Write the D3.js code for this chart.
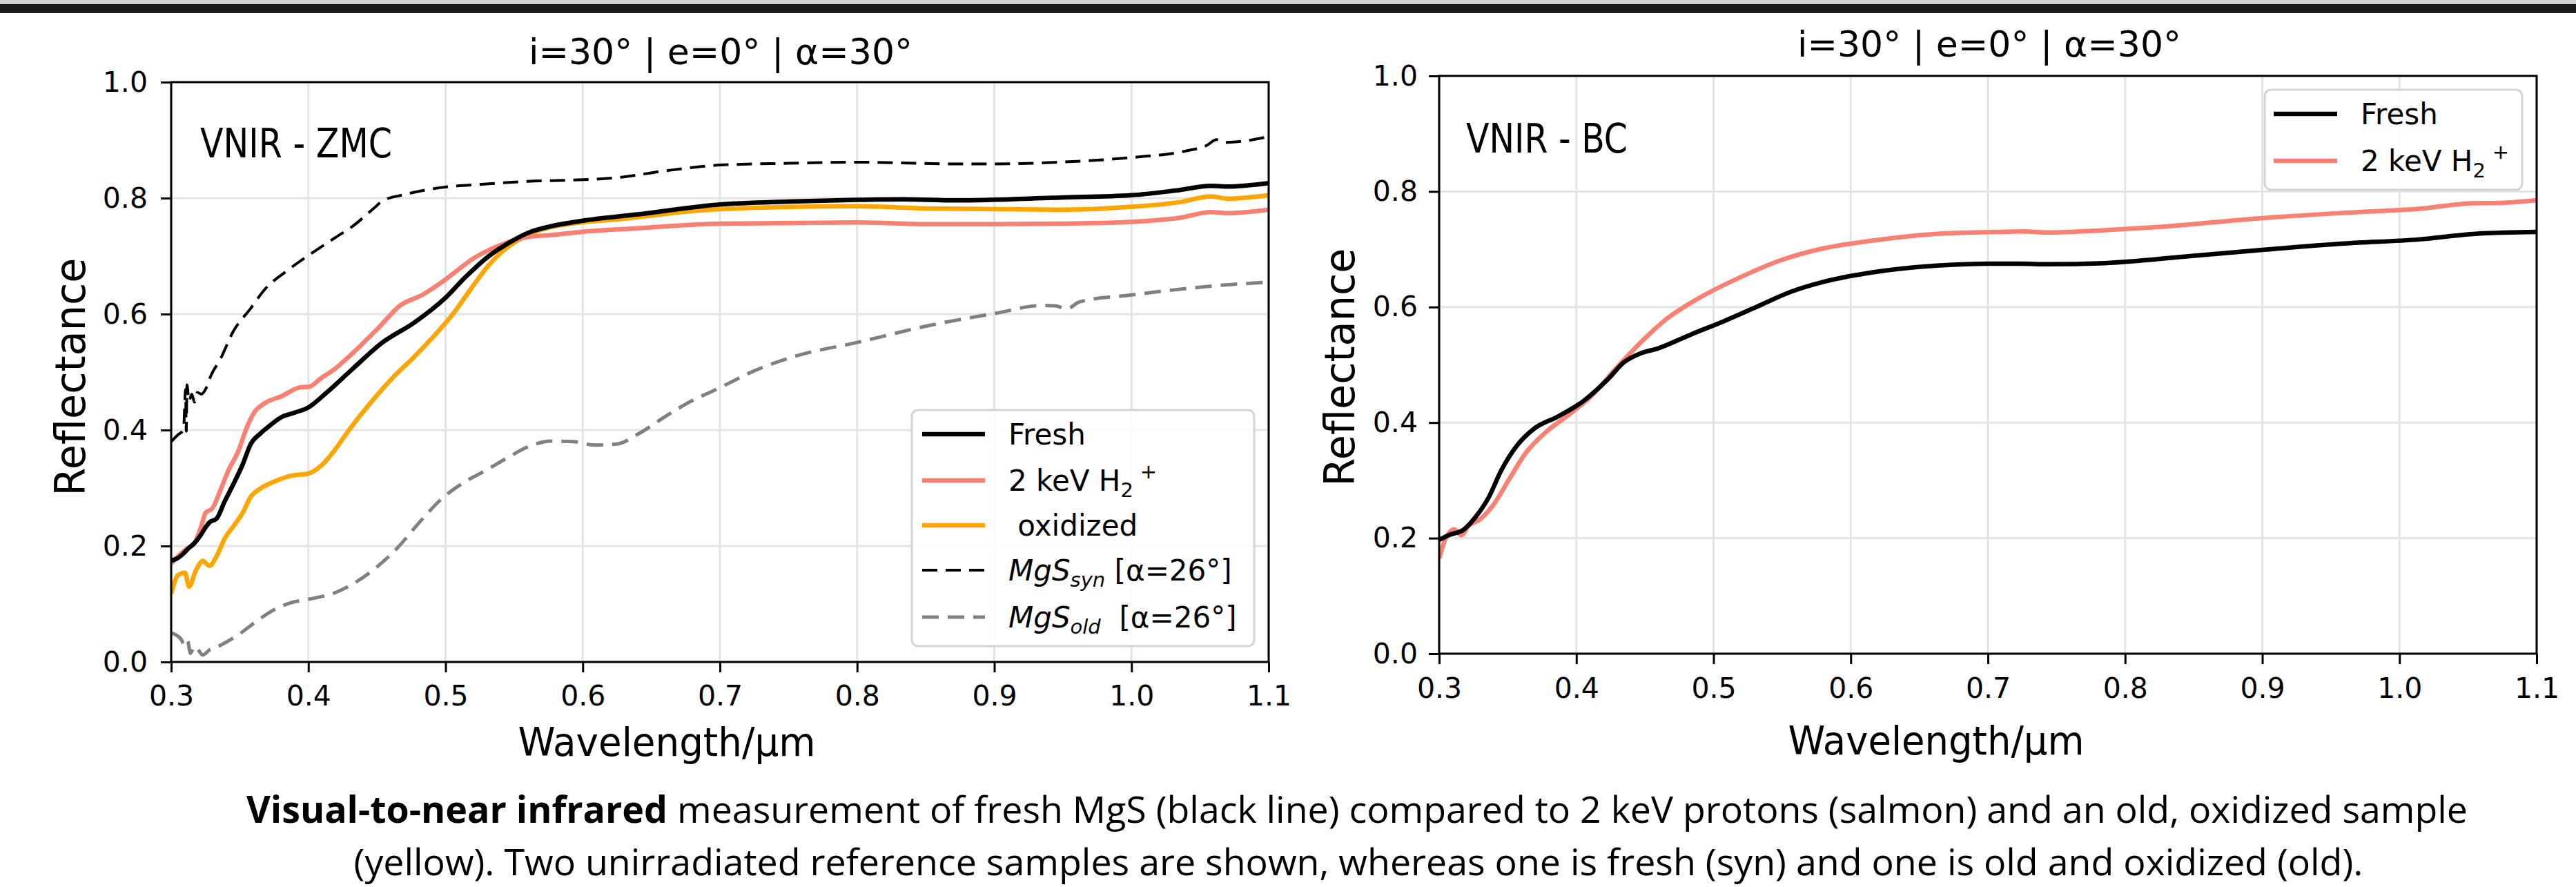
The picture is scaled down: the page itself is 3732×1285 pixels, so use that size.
<!DOCTYPE html>
<html>
<head>
<meta charset="utf-8">
<script src="https://cdn.jsdelivr.net/npm/d3@7"></script>
<style>
  html, body { margin: 0; padding: 0; background: #fff; }
  svg { display: block; }
  text { font-family: "DejaVu Sans", sans-serif; fill: #000; white-space: pre; }
</style>
</head>
<body>
<svg id="fig"></svg>
<script>
// ---- data (wavelength in um, reflectance) ----
var xTicks = [0.3, 0.4, 0.5, 0.6, 0.7, 0.8, 0.9, 1.0, 1.1];
var yTicks = [0.0, 0.2, 0.4, 0.6, 0.8, 1.0];

// ZMC panel
var zmcFresh = [[0.300,0.175],[0.304,0.178],[0.308,0.185],[0.313,0.197],[0.317,0.205],[0.321,0.217],[0.325,0.232],[0.328,0.241],[0.333,0.247],[0.339,0.277],[0.345,0.305],[0.352,0.340],[0.358,0.376],[0.365,0.394],[0.371,0.406],[0.381,0.423],[0.390,0.430],[0.400,0.439],[0.413,0.464],[0.432,0.505],[0.454,0.551],[0.477,0.585],[0.499,0.626],[0.515,0.665],[0.531,0.699],[0.547,0.724],[0.560,0.740],[0.576,0.751],[0.600,0.761],[0.640,0.772],[0.700,0.789],[0.750,0.794],[0.800,0.797],[0.833,0.798],[0.872,0.796],[0.948,0.801],[1.000,0.805],[1.032,0.813],[1.058,0.821],[1.070,0.820],[1.100,0.826]];
var zmcProton = [[0.300,0.170],[0.304,0.180],[0.310,0.193],[0.317,0.205],[0.322,0.235],[0.325,0.257],[0.330,0.265],[0.336,0.297],[0.342,0.332],[0.349,0.364],[0.355,0.404],[0.361,0.432],[0.368,0.446],[0.381,0.459],[0.393,0.473],[0.401,0.475],[0.409,0.489],[0.419,0.505],[0.432,0.532],[0.451,0.576],[0.467,0.615],[0.483,0.633],[0.499,0.658],[0.521,0.697],[0.541,0.720],[0.560,0.733],[0.576,0.736],[0.600,0.742],[0.640,0.748],[0.700,0.756],[0.800,0.758],[0.852,0.755],[0.900,0.755],[0.948,0.756],[1.000,0.759],[1.035,0.766],[1.058,0.776],[1.070,0.774],[1.100,0.780]];
var zmcOxidized = [[0.300,0.118],[0.305,0.150],[0.310,0.154],[0.313,0.130],[0.318,0.158],[0.323,0.174],[0.328,0.166],[0.333,0.182],[0.339,0.213],[0.345,0.233],[0.352,0.257],[0.358,0.285],[0.365,0.299],[0.375,0.311],[0.387,0.321],[0.400,0.325],[0.410,0.340],[0.420,0.368],[0.429,0.398],[0.445,0.446],[0.461,0.489],[0.477,0.526],[0.496,0.574],[0.505,0.599],[0.518,0.642],[0.531,0.683],[0.544,0.713],[0.557,0.733],[0.569,0.745],[0.592,0.756],[0.628,0.764],[0.700,0.781],[0.800,0.786],[0.852,0.782],[0.948,0.780],[1.000,0.785],[1.035,0.793],[1.058,0.803],[1.070,0.799],[1.100,0.805]];
var mgsSyn = [[0.300,0.380],[0.305,0.392],[0.309,0.400],[0.3105,0.470],[0.311,0.398],[0.3115,0.478],[0.313,0.450],[0.315,0.462],[0.317,0.448],[0.319,0.465],[0.322,0.462],[0.325,0.470],[0.329,0.494],[0.336,0.523],[0.345,0.569],[0.358,0.610],[0.368,0.642],[0.384,0.674],[0.400,0.701],[0.419,0.731],[0.432,0.751],[0.448,0.783],[0.454,0.795],[0.470,0.806],[0.496,0.818],[0.528,0.824],[0.560,0.829],[0.592,0.831],[0.628,0.836],[0.660,0.847],[0.700,0.857],[0.750,0.860],[0.800,0.862],[0.827,0.861],[0.872,0.859],[0.900,0.859],[0.948,0.862],[1.000,0.870],[1.039,0.881],[1.055,0.891],[1.062,0.901],[1.068,0.896],[1.100,0.906]];
var mgsOld = [[0.300,0.050],[0.307,0.040],[0.310,0.028],[0.312,0.036],[0.314,0.015],[0.317,0.027],[0.320,0.020],[0.323,0.012],[0.328,0.021],[0.336,0.029],[0.349,0.047],[0.362,0.070],[0.375,0.090],[0.387,0.102],[0.400,0.108],[0.420,0.120],[0.432,0.134],[0.449,0.162],[0.465,0.197],[0.481,0.241],[0.497,0.281],[0.513,0.309],[0.529,0.330],[0.545,0.352],[0.561,0.372],[0.577,0.381],[0.593,0.380],[0.609,0.374],[0.625,0.376],[0.641,0.394],[0.660,0.423],[0.676,0.446],[0.700,0.473],[0.724,0.501],[0.756,0.528],[0.800,0.551],[0.852,0.580],[0.900,0.601],[0.936,0.615],[0.945,0.614],[0.953,0.609],[0.962,0.621],[1.000,0.633],[1.062,0.649],[1.100,0.655]];

// BC panel
var bcFresh = [[0.300,0.197],[0.308,0.206],[0.318,0.215],[0.327,0.238],[0.336,0.270],[0.345,0.316],[0.357,0.361],[0.369,0.389],[0.387,0.411],[0.405,0.437],[0.423,0.475],[0.435,0.505],[0.447,0.520],[0.459,0.528],[0.484,0.553],[0.508,0.576],[0.532,0.601],[0.556,0.626],[0.581,0.644],[0.616,0.660],[0.665,0.672],[0.700,0.675],[0.725,0.675],[0.743,0.674],[0.785,0.676],[0.810,0.680],[0.846,0.688],[0.900,0.699],[0.960,0.710],[1.014,0.717],[1.057,0.727],[1.100,0.730]];
var bcProton = [[0.300,0.165],[0.305,0.201],[0.311,0.215],[0.316,0.205],[0.321,0.220],[0.330,0.233],[0.339,0.256],[0.351,0.302],[0.363,0.347],[0.378,0.384],[0.393,0.411],[0.411,0.446],[0.429,0.494],[0.447,0.539],[0.465,0.578],[0.489,0.615],[0.519,0.651],[0.549,0.681],[0.579,0.701],[0.616,0.715],[0.665,0.727],[0.707,0.730],[0.725,0.731],[0.743,0.729],[0.785,0.733],[0.821,0.738],[0.900,0.754],[0.960,0.763],[1.014,0.770],[1.057,0.780],[1.069,0.780],[1.100,0.785]];

var titleText = 'i=30° | e=0° | α=30°';
var captionBold = 'Visual-to-near infrared';
var captionLine1 = ' measurement of fresh MgS (black line) compared to 2 keV protons (salmon) and an old, oxidized sample';
var captionLine2 = '(yellow). Two unirradiated reference samples are shown, whereas one is fresh (syn) and one is old and oxidized (old).';

// ---- figure ----
var width = 3732;
var height = 1285;

var svg = d3.select('#fig')
    .attr('width', width)
    .attr('height', height);

// screenshot frame at the top
svg.append('rect').attr('x', 0).attr('y', 0).attr('width', width).attr('height', 6).attr('fill', '#d2d2d2');
svg.append('rect').attr('x', 0).attr('y', 6).attr('width', width).attr('height', 13).attr('fill', '#1b1b1b');

var fmt = d3.format('.1f');

function drawPanel(cfg) {
    var x = d3.scaleLinear().domain([0.3, 1.1]).range([cfg.x0, cfg.x1]);
    var y = d3.scaleLinear().domain([0, 1]).range([cfg.y1, cfg.y0]);
    var g = svg.append('g').attr('class', 'panel-' + cfg.id);

    // grid
    g.append('g').selectAll('line')
        .data(xTicks)
        .enter().append('line')
        .attr('x1', function(d) { return x(d); })
        .attr('x2', function(d) { return x(d); })
        .attr('y1', cfg.y0).attr('y2', cfg.y1)
        .attr('stroke', '#e4e4e4').attr('stroke-width', 3);
    g.append('g').selectAll('line')
        .data(yTicks)
        .enter().append('line')
        .attr('x1', cfg.x0).attr('x2', cfg.x1)
        .attr('y1', function(d) { return y(d); })
        .attr('y2', function(d) { return y(d); })
        .attr('stroke', '#e4e4e4').attr('stroke-width', 3);

    // lines
    var clipId = 'clip-' + cfg.id;
    svg.append('clipPath').attr('id', clipId).append('rect')
        .attr('x', cfg.x0).attr('y', cfg.y0)
        .attr('width', cfg.x1 - cfg.x0).attr('height', cfg.y1 - cfg.y0);

    var line = d3.line()
        .x(function(d) { return x(d[0]); })
        .y(function(d) { return y(d[1]); })
        .curve(d3.curveMonotoneX);

    g.append('g').attr('clip-path', 'url(#' + clipId + ')')
        .selectAll('path')
        .data(cfg.series)
        .enter().append('path')
        .attr('d', function(d) { return line(d.values); })
        .attr('fill', 'none')
        .attr('stroke', function(d) { return d.color; })
        .attr('stroke-width', function(d) { return d.width; })
        .attr('stroke-dasharray', function(d) { return d.dash || null; })
        .attr('stroke-linejoin', 'round');

    // axes
    var xAxis = g.append('g')
        .attr('transform', 'translate(0,' + cfg.y1 + ')')
        .call(d3.axisBottom(x).tickValues(xTicks).tickFormat(fmt).tickSize(15).tickPadding(cfg.xPad));
    var yAxis = g.append('g')
        .attr('transform', 'translate(' + cfg.x0 + ',0)')
        .call(d3.axisLeft(y).tickValues(yTicks).tickFormat(fmt).tickSize(15).tickPadding(cfg.yPad));
    [xAxis, yAxis].forEach(function(a) {
        a.select('.domain').remove();
        a.selectAll('.tick line').attr('stroke', '#000').attr('stroke-width', 3);
        a.selectAll('.tick text').attr('font-size', 41).attr('font-family', '"DejaVu Sans", sans-serif').attr('fill', '#000');
    });

    // spines
    g.append('rect')
        .attr('x', cfg.x0).attr('y', cfg.y0)
        .attr('width', cfg.x1 - cfg.x0).attr('height', cfg.y1 - cfg.y0)
        .attr('fill', 'none').attr('stroke', '#000').attr('stroke-width', 3);

    // title
    g.append('text')
        .attr('x', cfg.titleX).attr('y', cfg.titleY)
        .attr('text-anchor', 'middle').attr('font-size', 52)
        .text(titleText);

    // panel tag
    g.append('text')
        .attr('x', cfg.tagX).attr('y', cfg.tagY)
        .attr('font-size', 58)
        .attr('textLength', cfg.tagLen).attr('lengthAdjust', 'spacingAndGlyphs')
        .text(cfg.tag);

    // axis labels
    g.append('text')
        .attr('x', cfg.xlabX).attr('y', cfg.xlabY)
        .attr('text-anchor', 'middle').attr('font-size', 57)
        .attr('textLength', cfg.xlabLen).attr('lengthAdjust', 'spacingAndGlyphs')
        .text('Wavelength/μm');
    g.append('text')
        .attr('transform', 'translate(' + cfg.ylabX + ',' + cfg.ylabY + ') rotate(-90)')
        .attr('text-anchor', 'middle').attr('font-size', 60)
        .attr('textLength', cfg.ylabLen).attr('lengthAdjust', 'spacingAndGlyphs')
        .text('Reflectance');

    // legend
    var lg = g.append('g');
    lg.append('rect')
        .attr('x', cfg.legend.x0).attr('y', cfg.legend.y0)
        .attr('width', cfg.legend.x1 - cfg.legend.x0)
        .attr('height', cfg.legend.y1 - cfg.legend.y0)
        .attr('rx', 9).attr('ry', 9)
        .attr('fill', '#fff').attr('fill-opacity', 0.85)
        .attr('stroke', '#d4d4d4').attr('stroke-width', 3);
    cfg.legend.rows.forEach(function(r, i) {
        var s = cfg.series[r.series];
        lg.append('line')
            .attr('x1', cfg.legend.hx0).attr('x2', cfg.legend.hx1)
            .attr('y1', r.y).attr('y2', r.y)
            .attr('stroke', s.color).attr('stroke-width', s.width)
            .attr('stroke-dasharray', s.dash || null);
        var t = lg.append('text')
            .attr('x', cfg.legend.tx).attr('y', r.y + 15)
            .attr('font-size', 42);
        r.label(t);
    });
}

function protonLabel(t) {
    t.append('tspan').text('2 keV H');
    t.append('tspan').attr('font-size', 29).attr('dy', 9).text('2');
    t.append('tspan').attr('font-size', 29).attr('dx', 10).attr('dy', -27).text('+');
}
function mgsLabel(sub, rest) {
    return function(t) {
        t.append('tspan').attr('font-style', 'italic').text('MgS');
        t.append('tspan').attr('font-style', 'italic').attr('font-size', 29).attr('dy', 9).text(sub);
        t.append('tspan').attr('dy', -9).text(rest);
    };
}

drawPanel({
    id: 'zmc',
    x0: 248, x1: 1838, y0: 119, y1: 959,
    xPad: 19, yPad: 19,
    titleX: 1044, titleY: 93,
    tag: 'VNIR - ZMC', tagX: 290, tagY: 228, tagLen: 278,
    xlabX: 966, xlabY: 1095, xlabLen: 431,
    ylabX: 123, ylabY: 546, ylabLen: 345,
    series: [
        { name: 'Fresh', values: zmcFresh, color: '#000000', width: 6.5 },
        { name: '2 keV', values: zmcProton, color: '#fa8072', width: 6.5 },
        { name: 'oxidized', values: zmcOxidized, color: '#ffa500', width: 6.5 },
        { name: 'syn', values: mgsSyn, color: '#000000', width: 4, dash: '22,12' },
        { name: 'old', values: mgsOld, color: '#808080', width: 5, dash: '24,13' }
    ].reverse(),
    legend: {
        x0: 1321, x1: 1817, y0: 594, y1: 936,
        hx0: 1336, hx1: 1427, tx: 1461,
        rows: [
            { series: 4, y: 629, label: function(t) { t.text('Fresh'); } },
            { series: 3, y: 696, label: protonLabel },
            { series: 2, y: 761, label: function(t) { t.text(' oxidized'); } },
            { series: 1, y: 826, label: mgsLabel('syn', ' [α=26°]') },
            { series: 0, y: 894, label: mgsLabel('old', '  [α=26°]') }
        ]
    }
});

drawPanel({
    id: 'bc',
    x0: 2085, x1: 3675, y0: 110, y1: 947,
    xPad: 20, yPad: 16,
    titleX: 2882, titleY: 82,
    tag: 'VNIR - BC', tagX: 2124, tagY: 221, tagLen: 234,
    xlabX: 2805, xlabY: 1093, xlabLen: 429,
    ylabX: 1962, ylabY: 532, ylabLen: 345,
    series: [
        { name: '2 keV', values: bcProton, color: '#fa8072', width: 6.5 },
        { name: 'Fresh', values: bcFresh, color: '#000000', width: 6.5 }
    ],
    legend: {
        x0: 3281, x1: 3654, y0: 130, y1: 275,
        hx0: 3294, hx1: 3386, tx: 3420,
        rows: [
            { series: 1, y: 165, label: function(t) { t.text('Fresh'); } },
            { series: 0, y: 233, label: protonLabel }
        ]
    }
});

// caption, sized to the measured line widths
function fitLine(sel, target) {
    sel.attr('font-size', 50);
    var w = sel.node().getComputedTextLength();
    sel.attr('font-size', 50 * target / w);
}
var cap1 = svg.append('text')
    .attr('x', 1966).attr('y', 1192)
    .attr('text-anchor', 'middle')
    .style('font-family', '"Open Sans", sans-serif')
    .attr('fill', '#222');
cap1.append('tspan').attr('font-weight', 'bold').text(captionBold);
cap1.append('tspan').text(captionLine1);
fitLine(cap1, 3219);

var cap2 = svg.append('text')
    .attr('x', 1968).attr('y', 1268)
    .attr('text-anchor', 'middle')
    .style('font-family', '"Open Sans", sans-serif')
    .attr('fill', '#222')
    .text(captionLine2);
fitLine(cap2, 2912);
</script>
</body>
</html>
